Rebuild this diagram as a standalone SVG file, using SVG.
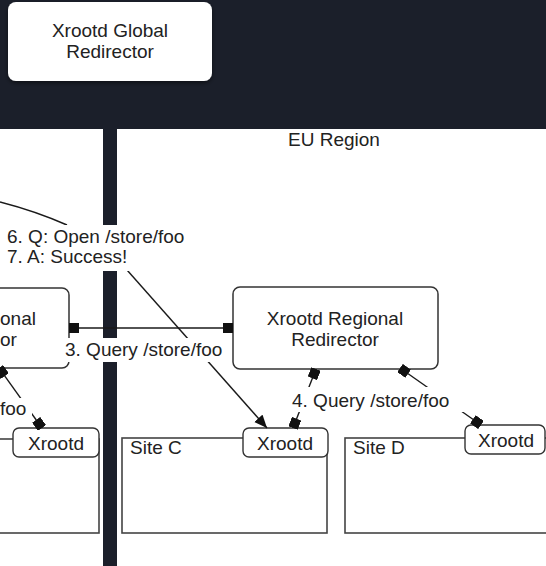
<svg xmlns="http://www.w3.org/2000/svg" width="546" height="566" viewBox="0 0 546 566">
<style>
text{font-family:"Liberation Sans",Arial,sans-serif;font-size:19px;fill:#222}
.mid{text-anchor:middle}
.site{fill:#fff;stroke:#444;stroke-width:1.6}
.rbox{fill:#fff;stroke:#333;stroke-width:1.5}
.xbox{fill:#fff;stroke:#333;stroke-width:1.4}
.conn{fill:none;stroke:#1a1a1a;stroke-width:1.4}
.lbl{fill:#fff}
</style>
<defs>
<marker id="sq" markerUnits="userSpaceOnUse" viewBox="-10 -5 10 10" refX="0" refY="0" markerWidth="10" markerHeight="10" orient="auto-start-reverse">
<rect x="-10" y="-5" width="10" height="10" fill="#111"/>
</marker>
<marker id="arr" markerUnits="userSpaceOnUse" viewBox="-13 -6 13 12" refX="0" refY="0" markerWidth="13" markerHeight="12" orient="auto">
<path d="M0,0 L-13,-5.5 L-13,5.5 Z" fill="#111"/>
</marker>
<filter id="sh" x="-10%" y="-10%" width="120%" height="130%">
<feDropShadow dx="0" dy="2" stdDeviation="2" flood-color="#000" flood-opacity="0.5"/>
</filter>
</defs>
<rect x="0" y="0" width="546" height="566" fill="#1b1f2a"/>
<g id="regions">
<rect x="0" y="129" width="103" height="437" fill="#fff"/>
<rect x="117" y="129" width="429" height="437" fill="#fff"/>
<text x="334" y="146" class="mid">EU Region</text>
</g>
<g id="global-redirector">
<rect x="8" y="2" width="204" height="79" rx="8" fill="#fff" filter="url(#sh)"/>
<text x="110" y="37" class="mid">Xrootd Global</text>
<text x="110" y="58" class="mid">Redirector</text>
</g>
<g id="site-b">
<rect x="-20" y="439" width="119" height="94" class="site"/>
</g>
<g id="site-c">
<rect x="122" y="438" width="205" height="95" class="site"/>
<text x="130" y="454">Site C</text>
</g>
<g id="site-d">
<rect x="345" y="438" width="220" height="95" class="site"/>
<text x="353" y="454">Site D</text>
</g>
<g id="regional-left">
<rect x="-140" y="288" width="209" height="80" rx="7" class="rbox"/>
<text x="0" y="325">onal</text>
<text x="0" y="346">or</text>
</g>
<g id="regional-eu">
<rect x="233" y="287" width="205" height="82" rx="7" class="rbox"/>
<text x="335" y="325" class="mid">Xrootd Regional</text>
<text x="335" y="346" class="mid">Redirector</text>
</g>
<g id="xrootd-b">
<rect x="13" y="428" width="86" height="29" rx="6" class="xbox"/>
<text x="56" y="450" class="mid">Xrootd</text>
</g>
<g id="xrootd-c">
<rect x="243" y="428" width="85" height="29" rx="6" class="xbox"/>
<text x="285" y="450" class="mid">Xrootd</text>
</g>
<g id="xrootd-d">
<rect x="465" y="425" width="80" height="29" rx="6" class="xbox"/>
<text x="506" y="447" class="mid">Xrootd</text>
</g>
<g id="connectors">
<path class="conn" d="M0,202 Q35,211 67,225"/>
<path class="conn" d="M127,270 L267,428" marker-end="url(#arr)"/>
<path class="conn" d="M69,328 L233,328" marker-start="url(#sq)" marker-end="url(#sq)"/>
<path class="conn" d="M316,369 L293,428" marker-start="url(#sq)" marker-end="url(#sq)"/>
<path class="conn" d="M400,368 L481,425" marker-start="url(#sq)" marker-end="url(#sq)"/>
<path class="conn" d="M-1,368 L42,428" marker-start="url(#sq)" marker-end="url(#sq)"/>
</g>
<g id="labels">
<rect x="4" y="225" width="188" height="46" class="lbl"/>
<text x="7" y="243">6. Q: Open /store/foo</text>
<text x="7" y="263">7. A: Success!</text>
<rect x="62" y="338" width="166" height="24" class="lbl"/>
<text x="65" y="356">3. Query /store/foo</text>
<rect x="289" y="387" width="176" height="25" class="lbl"/>
<text x="292" y="407">4. Query /store/foo</text>
<rect x="0" y="398" width="32" height="21" class="lbl"/>
<text x="0" y="415">foo</text>
</g>
</svg>
